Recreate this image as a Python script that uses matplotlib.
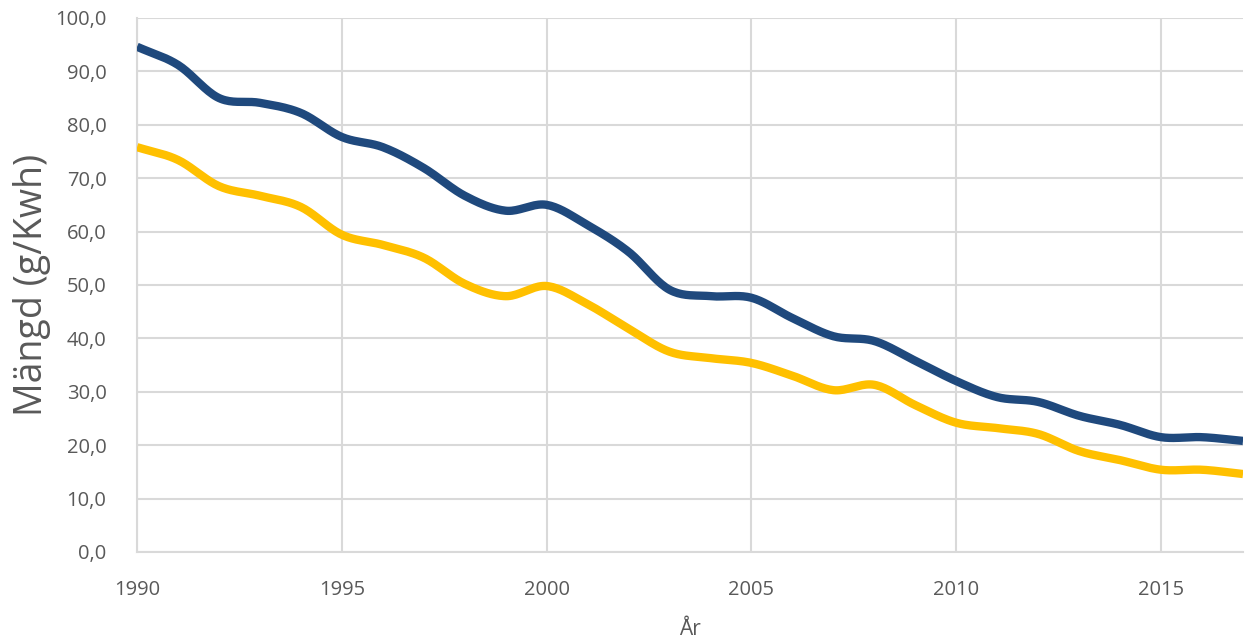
import numpy as np
import matplotlib.pyplot as plt

# data läst från bilden (g/Kwh)
years = np.arange(1990, 2018)
serie_bla = [94.6, 91.2, 85.0, 84.1, 82.2, 77.7, 75.8, 71.9, 66.7, 63.9,
             65.0, 61.2, 56.2, 49.1, 47.9, 47.6, 43.8, 40.4, 39.5, 35.8,
             32.0, 29.0, 28.1, 25.5, 23.8, 21.5, 21.5, 20.8]
serie_gul = [75.8, 73.4, 68.5, 66.7, 64.6, 59.4, 57.5, 55.1, 50.2, 47.9,
             49.8, 46.4, 41.8, 37.5, 36.3, 35.4, 33.0, 30.3, 31.3, 27.5,
             24.2, 23.2, 22.1, 18.9, 17.2, 15.4, 15.4, 14.6]
yticks = np.arange(0, 101, 10)
xticks = [1990, 1995, 2000, 2005, 2010, 2015]


def smooth(x, y, n=20):
    # Catmull-Rom, som Excels utjämnade linje
    x = np.asarray(x, float)
    y = np.asarray(y, float)
    px = np.concatenate([[2 * x[0] - x[1]], x, [2 * x[-1] - x[-2]]])
    py = np.concatenate([[2 * y[0] - y[1]], y, [2 * y[-1] - y[-2]]])
    xs, ys = [], []
    t = np.linspace(0, 1, n, endpoint=False)
    for i in range(1, len(px) - 2):
        for p, out in ((px, xs), (py, ys)):
            p0, p1, p2, p3 = p[i - 1], p[i], p[i + 1], p[i + 2]
            out.append(0.5 * (2 * p1 + (-p0 + p2) * t
                              + (2 * p0 - 5 * p1 + 4 * p2 - p3) * t ** 2
                              + (-p0 + 3 * p1 - 3 * p2 + p3) * t ** 3))
    xs.append([x[-1]])
    ys.append([y[-1]])
    return np.concatenate(xs), np.concatenate(ys)


plt.rcParams['font.family'] = ['Open Sans', 'DejaVu Sans']
grey = '#595959'

fig = plt.figure(figsize=(12.46, 6.4), dpi=100)
ax = fig.add_axes([0.110, 0.1375, 0.8876, 0.8345])

sx, sy = smooth(years, serie_bla)
ax.plot(sx, sy, color='#1F497D', lw=6, solid_capstyle='butt', zorder=3)
sx, sy = smooth(years, serie_gul)
ax.plot(sx, sy, color='#FFC000', lw=6, solid_capstyle='butt', zorder=3)

ax.set_xlim(1990, 2017)
ax.set_ylim(0, 100)
ax.set_xticks(xticks)
ax.set_yticks(yticks)
ax.set_yticklabels([f'{v:.1f}'.replace('.', ',') for v in yticks])
ax.grid(True, color='#D9D9D9', lw=1.5)
ax.set_axisbelow(True)
for s in ['top', 'right']:
    ax.spines[s].set_visible(False)
ax.spines['left'].set_color('#D9D9D9')
ax.spines['bottom'].set_color('#D9D9D9')
ax.spines['left'].set_linewidth(1.5)
ax.spines['bottom'].set_linewidth(1.5)
ax.tick_params(length=0, labelsize=14.5, colors=grey)
ax.tick_params(axis='y', pad=22)
ax.tick_params(axis='x', pad=20)

ax.set_xlabel('År', fontsize=15, color=grey, labelpad=14)
ax.set_ylabel('Mängd (g/Kwh)', fontsize=27, color=grey, labelpad=3)

fig.savefig('out.png', dpi=100)
